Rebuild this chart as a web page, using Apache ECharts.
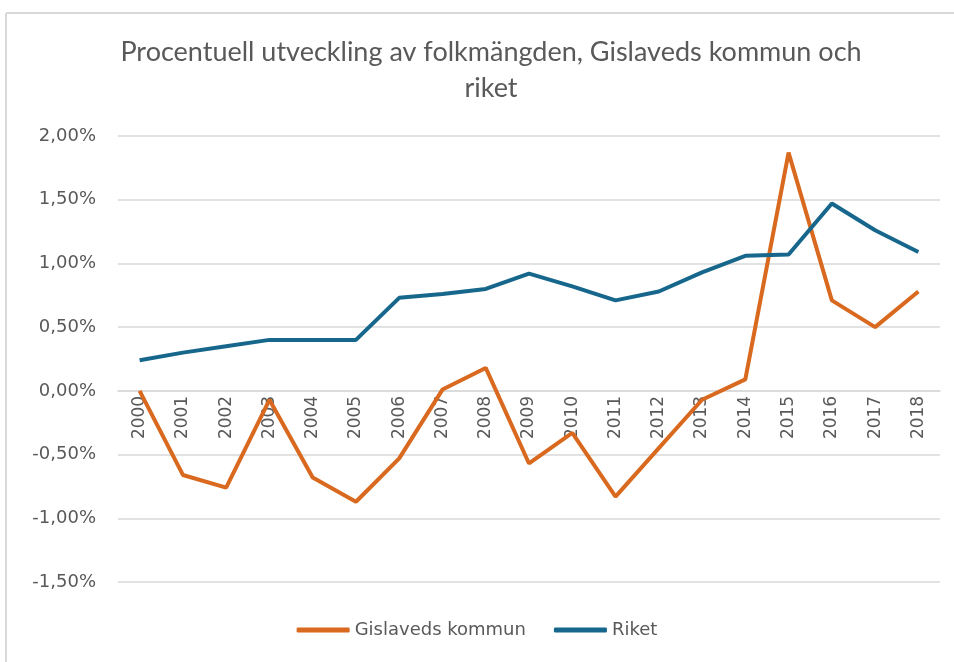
<!DOCTYPE html>
<html>
<head>
<meta charset="utf-8">
<script src="https://cdn.jsdelivr.net/npm/echarts@6/dist/echarts.min.js"></script>
<style>
  html, body { margin: 0; padding: 0; background: #fff; }
  #chart { width: 954px; height: 662px; }
</style>
</head>
<body>
<div id="chart"></div>
<script>
// years on the x axis
var years = ['2000', '2001', '2002', '2003', '2004', '2005', '2006', '2007', '2008', '2009',
             '2010', '2011', '2012', '2013', '2014', '2015', '2016', '2017', '2018'];

// percent change per year
var gislaved = [0.00, -0.66, -0.76, -0.07, -0.68, -0.87, -0.53, 0.01, 0.18, -0.57,
                -0.33, -0.83, -0.45, -0.07, 0.09, 1.87, 0.71, 0.50, 0.78];
var riket = [0.24, 0.30, 0.35, 0.40, 0.40, 0.40, 0.73, 0.76, 0.80, 0.92,
             0.82, 0.71, 0.78, 0.93, 1.06, 1.07, 1.47, 1.26, 1.09];

var titleText = 'Procentuell utveckling av folkmängden, Gislaveds kommun och\nriket';

var textGrey = '#595959';
var gridGrey = '#d9d9d9';
var labelFont = 'DejaVu Sans';

var myChart = echarts.init(document.getElementById('chart'));

// grid box, the x axis sits on the 0 line
var gridTop = 136, gridBottom = 80, yMin = -1.5, yMax = 2.0;
var zeroOffset = -(662 - gridTop - gridBottom) * (0 - yMin) / (yMax - yMin);

var option = {
    backgroundColor: '#fff',
    textStyle: { fontFamily: 'Lato' },
    title: {
        text: titleText,
        left: 486,
        top: 29,
        textAlign: 'center',
        textStyle: {
            fontFamily: 'Lato',
            fontSize: 27,
            fontWeight: 'normal',
            color: textGrey,
            lineHeight: 36,
            align: 'center'
        }
    },
    legend: {
        bottom: 18,
        left: 'center',
        itemWidth: 53,
        itemHeight: 5,
        itemGap: 28,
        icon: 'roundRect',
        textStyle: { fontFamily: labelFont, fontSize: 18, color: textGrey },
        data: ['Gislaveds kommun', 'Riket']
    },
    grid: { left: 118, right: 14, top: gridTop, bottom: gridBottom },
    xAxis: {
        type: 'category',
        data: years,
        boundaryGap: true,
        offset: zeroOffset,
        axisLine: { onZero: false, lineStyle: { color: gridGrey, width: 1.5 } },
        axisTick: { show: false },
        axisLabel: {
            rotate: 90,
            fontFamily: labelFont,
            fontSize: 17,
            color: textGrey,
            margin: 5
        }
    },
    yAxis: {
        type: 'value',
        min: yMin,
        max: yMax,
        interval: 0.5,
        axisLine: { show: false },
        axisTick: { show: false },
        splitLine: { lineStyle: { color: gridGrey, width: 1.5 } },
        axisLabel: {
            fontFamily: labelFont,
            fontSize: 18,
            color: textGrey,
            margin: 22,
            formatter: function (v) { return v.toFixed(2).replace('.', ',') + '%'; }
        }
    },
    series: [
        {
            name: 'Gislaveds kommun',
            type: 'line',
            data: gislaved,
            symbol: 'none',
            color: '#d9691e',
            lineStyle: { width: 4, color: '#d9691e' }
        },
        {
            name: 'Riket',
            type: 'line',
            data: riket,
            symbol: 'none',
            color: '#17678d',
            lineStyle: { width: 4, color: '#17678d' }
        }
    ],
    graphic: [
        { type: 'line', shape: { x1: 6, y1: 13, x2: 954, y2: 13 }, style: { stroke: gridGrey, lineWidth: 2 } },
        { type: 'line', shape: { x1: 6, y1: 13, x2: 6, y2: 662 }, style: { stroke: gridGrey, lineWidth: 2 } }
    ]
};

myChart.setOption(option);
</script>
</body>
</html>
